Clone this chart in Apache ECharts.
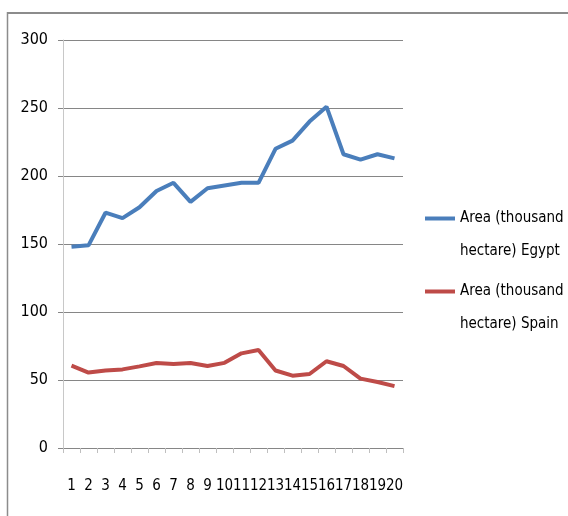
<!DOCTYPE html>
<html>
<head>
<meta charset="utf-8">
<style>
  html, body { margin: 0; padding: 0; background: #fff; }
  #chart { width: 568px; height: 516px; }
</style>
<script src="https://cdn.jsdelivr.net/npm/echarts@6/dist/echarts.min.js"></script>
</head>
<body>
<div id="chart"></div>
<script>
// Years 1..20
const categories = ['1','2','3','4','5','6','7','8','9','10','11','12','13','14','15','16','17','18','19','20'];

// Cultivated area, thousand hectare
const egyptArea = [148, 149, 173, 169, 177, 189, 195, 181, 191, 193, 195, 195, 220, 226, 240, 251, 216, 212, 216, 213];
const spainArea = [60.5, 55.5, 57, 57.8, 60, 62.5, 61.8, 62.5, 60.3, 62.6, 69.6, 72, 57, 53.2, 54.4, 63.8, 60.3, 51, 48.5, 45.5];

const seriesNames = ['Area (thousand hectare) Egypt', 'Area (thousand hectare) Spain'];
const legendLines = [['Area (thousand', 'hectare) Egypt'], ['Area (thousand', 'hectare) Spain']];
const yTicks = { min: 0, max: 300, step: 50 };

const FONT = "'Liberation Sans Narrow', 'Arial Narrow', 'DejaVu Sans Condensed', 'Noto Sans Condensed', 'Roboto Condensed', sans-serif";
const blue = '#4A7EBB';
const red = '#BE4B48';

const chart = echarts.init(document.getElementById('chart'), null, { renderer: 'canvas' });

// Legend entry: blank first line keeps the icon level with the first text line
function legendAt(idx, top) {
  return {
    data: [seriesNames[idx]],
    left: 420,
    top: top,
    orient: 'vertical',
    icon: 'rect',
    itemWidth: 30,
    itemHeight: 4,
    formatter: () => '\n' + legendLines[idx].join('\n'),
    textStyle: {
      fontFamily: FONT,
      fontSize: 15,
      color: '#000',
      lineHeight: 33
    },
    selectedMode: false
  };
}

chart.setOption({
  animation: false,
  backgroundColor: '#fff',
  grid: { left: 63, right: 165, top: 40, bottom: 68, containLabel: false },
  legend: [legendAt(0, 164), legendAt(1, 237)],
  xAxis: {
    type: 'category',
    data: categories,
    boundaryGap: true,
    axisLine: { show: true, lineStyle: { color: '#868686', width: 1 } },
    axisTick: { show: true, interval: 0, length: 5, lineStyle: { color: '#bfbfbf' } },
    axisLabel: { interval: 0, margin: 31, fontFamily: FONT, fontSize: 15, color: '#000' },
    splitLine: { show: false }
  },
  yAxis: {
    type: 'value',
    min: yTicks.min,
    max: yTicks.max,
    interval: yTicks.step,
    axisLine: { show: true, lineStyle: { color: '#c8c8c8', width: 1 } },
    axisTick: { show: true, length: 5, lineStyle: { color: '#868686' } },
    axisLabel: { margin: 15, fontFamily: FONT, fontSize: 16, color: '#000' },
    splitLine: { show: true, lineStyle: { color: '#868686', width: 1 } }
  },
  series: [
    {
      name: seriesNames[0],
      type: 'line',
      data: egyptArea,
      symbol: 'none',
      lineStyle: { color: blue, width: 4 },
      itemStyle: { color: blue }
    },
    {
      name: seriesNames[1],
      type: 'line',
      data: spainArea,
      symbol: 'none',
      lineStyle: { color: red, width: 4 },
      itemStyle: { color: red }
    }
  ],
  graphic: [
    { type: 'line', shape: { x1: 7, y1: 13, x2: 568, y2: 13 }, style: { stroke: '#8c8c8c', lineWidth: 2 } },
    { type: 'line', shape: { x1: 7.5, y1: 12, x2: 7.5, y2: 516 }, style: { stroke: '#8c8c8c', lineWidth: 1.5 } }
  ]
});
</script>
</body>
</html>
